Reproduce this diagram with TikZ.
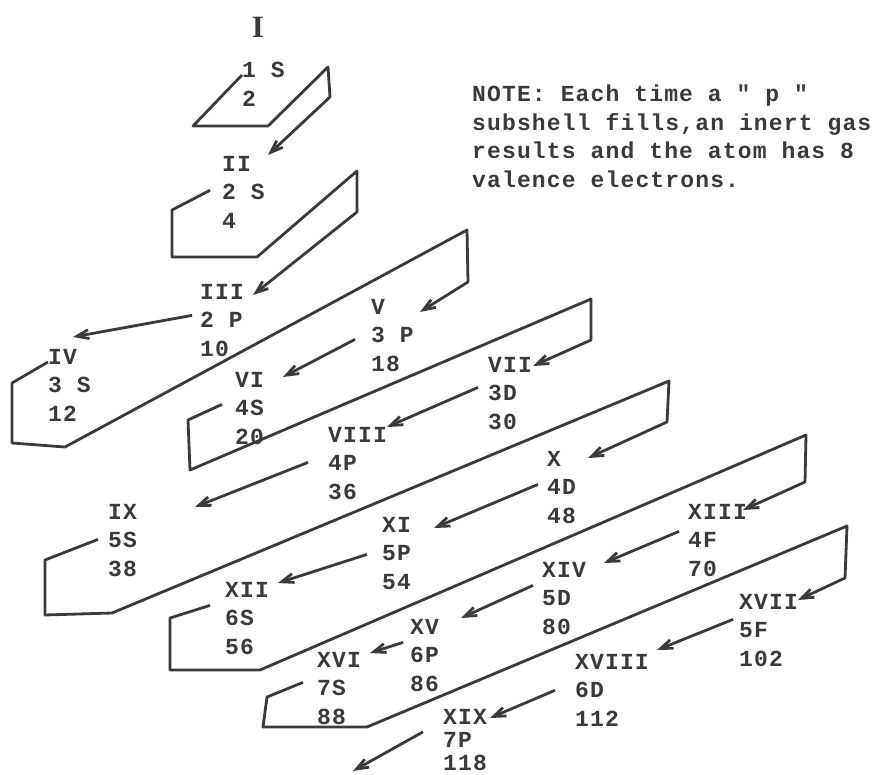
\documentclass[tikz,border=0pt]{standalone}
\usepackage{fontspec}
\usepackage{xcolor}
\usetikzlibrary{arrows.meta}
\newfontfamily\labfont[LetterSpace=5]{Liberation Mono Bold}
\newfontfamily\titlefont{Liberation Serif Bold}
\definecolor{ink}{HTML}{3A3A3A}

\begin{document}
\begin{tikzpicture}[x=1pt,y=-1pt,
    lab/.style={anchor=north west,inner sep=0pt,align=left,text=ink,
      font=\labfont\fontsize{23}{28.5}\selectfont},
    turn/.style={draw=ink,line width=2.8pt,line join=round,
      -{Straight Barb[length=12pt,width=9pt]}},
    arr/.style={turn}]
    \useasboundingbox[fill=white] (0,0) rectangle (877,775);

    % title and note
    \node[text=ink,font=\titlefont\fontsize{31}{31}\selectfont] (lI) at (258,27) {I};
    \node[lab] (note) at (472,85) {NOTE: Each time a " p "\\subshell fills,an inert gas\\results and the atom has 8\\valence electrons.};

    % subshell labels
    \node[lab] (l1s) at (242,62) {1 S\\2};
    \node[lab] (lII) at (222,156) {II\\2 S\\4};
    \node[lab] (lIII) at (200,284) {III\\2 P\\10};
    \node[lab] (lIV) at (48,349) {IV\\3 S\\12};
    \node[lab] (lV) at (371,299) {V\\3 P\\18};
    \node[lab] (lVI) at (235,372) {VI\\4S\\20};
    \node[lab] (lVII) at (488,357) {VII\\3D\\30};
    \node[lab] (lVIII) at (328,427) {VIII\\4P\\36};
    \node[lab] (lIX) at (108,504) {IX\\5S\\38};
    \node[lab] (lX) at (547,451) {X\\4D\\48};
    \node[lab] (lXI) at (382,517) {XI\\5P\\54};
    \node[lab] (lXII) at (225,582) {XII\\6S\\56};
    \node[lab] (lXIII) at (688,504) {XIII\\4F\\70};
    \node[lab] (lXIV) at (542,562) {XIV\\5D\\80};
    \node[lab] (lXV) at (410,619) {XV\\6P\\86};
    \node[lab] (lXVI) at (317,652) {XVI\\7S\\88};
    \node[lab] (lXVII) at (739,594) {XVII\\5F\\102};
    \node[lab] (lXVIII) at (575,654) {XVIII\\6D\\112};
    \node[lab,font=\labfont\fontsize{23}{23}\selectfont] (lXIX) at (443,709) {XIX\\7P\\118};
    \coordinate (out) at (353,771);

    % wrap-around lines
    \draw[turn] ([shift={(0,13)}]l1s.north west) -- (193,126) -- (268,126) -- (328,67) -- (330,97)
        -- ([shift={(46,-1)}]lII.north west);
    \draw[turn] ([shift={(-12,-2)}]lII.west) -- (172,210) -- (172,257) -- (257,257) -- (357,171) -- (357,212)
        -- ([shift={(53,11)}]lIII.north west);
    \draw[turn] ([shift={(0,13)}]lIV.north west) -- (12,383) -- (12,443) -- (65,447) -- (467,230) -- (468,282)
        -- ([shift={(49,13)}]lV.north west);
    \draw[turn] ([shift={(-13,-4)}]lVI.west) -- (188,420) -- (190,470) -- (591,299) -- (591,340)
        -- ([shift={(45,9)}]lVII.north west);
    \draw[turn] ([shift={(-10,-1)}]lIX.west) -- (45,560) -- (45,615) -- (112,613) -- (669,381) -- (667,422)
        -- ([shift={(41,7)}]lX.north west);
    \draw[turn] ([shift={(-15,-13)}]lXII.west) -- (170,618) -- (170,670) -- (260,670) -- (806,435) -- (805,482)
        -- ([shift={(55,6)}]lXIII.north west);
    \draw[turn] ([shift={(-14,-6)}]lXVI.west) -- (267,697) -- (263,727) -- (367,727) -- (847,526) -- (845,578)
        -- ([shift={(59,6)}]lXVII.north west);

    % straight arrows
    \draw[arr] ([shift={(-8,-5)}]lIII.west) -- ([shift={(25,-12)}]lIV.north west);
    \draw[arr] ([shift={(-16,4)}]lV.west) -- ([shift={(48,5)}]lVI.north west);
    \draw[arr] ([shift={(-10,-6)}]lVII.west) -- ([shift={(59,0)}]lVIII.north west);
    \draw[arr] ([shift={(-20,-1)}]lVIII.west) -- ([shift={(87,3)}]lIX.north west);
    \draw[arr] ([shift={(-9,-3)}]lX.west) -- ([shift={(52,11)}]lXI.north west);
    \draw[arr] ([shift={(-15,1)}]lXI.west) -- ([shift={(53,1)}]lXII.north west);
    \draw[arr] ([shift={(-9,-9)}]lXIII.west) -- ([shift={(62,1)}]lXIV.north west);
    \draw[arr] ([shift={(-9,-13)}]lXIV.west) -- ([shift={(51,-1)}]lXV.north west);
    \draw[arr] ([shift={(-7,-13)}]lXV.west) -- ([shift={(53,1)}]lXVI.north west);
    \draw[arr] ([shift={(-6,-11)}]lXVII.west) -- ([shift={(82,-4)}]lXVIII.north west);
    \draw[arr] ([shift={(-20,0)}]lXVIII.west) -- ([shift={(47,9)}]lXIX.north west);
    \draw[arr] ([shift={(-20,-8)}]lXIX.west) -- (out);
\end{tikzpicture}
\end{document}
